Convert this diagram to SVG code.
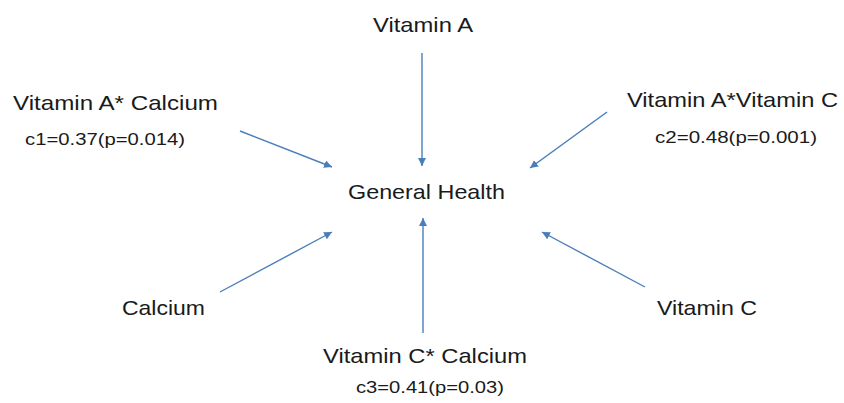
<svg xmlns="http://www.w3.org/2000/svg" width="844" height="403" viewBox="0 0 844 403">
<style>
.lbl{font-family:"Liberation Sans","DejaVu Sans",sans-serif;font-size:21px;fill:#1a1a1a}
.sub{font-family:"Liberation Sans","DejaVu Sans",sans-serif;font-size:17px;fill:#1a1a1a}
.con{stroke:#4a7ebb;stroke-width:1.4;fill:none;marker-end:url(#ah)}
</style>
<defs>
<marker id="ah" viewBox="0 0 10 10" refX="10" refY="5" markerWidth="8" markerHeight="8" markerUnits="userSpaceOnUse" orient="auto">
<path d="M0,0 L10,5 L0,10 z" fill="#4a7ebb"/>
</marker>
</defs>
<rect width="844" height="403" fill="#ffffff"/>
<g id="connectors">
<line class="con" x1="422" y1="53" x2="422" y2="166"/>
<line class="con" x1="240" y1="131" x2="332" y2="167"/>
<line class="con" x1="607" y1="112" x2="530" y2="168"/>
<line class="con" x1="220" y1="292" x2="332" y2="232"/>
<line class="con" x1="645" y1="287" x2="542" y2="232"/>
<line class="con" x1="423" y1="333" x2="423" y2="218"/>
</g>
<g id="vitaminA"><text class="lbl" x="373" y="32" textLength="100" lengthAdjust="spacingAndGlyphs">Vitamin A</text></g>
<g id="generalHealth"><text class="lbl" x="348" y="199" textLength="157" lengthAdjust="spacingAndGlyphs">General Health</text></g>
<g id="vitaminACalcium">
<text class="lbl" x="13" y="110" textLength="205" lengthAdjust="spacingAndGlyphs">Vitamin A* Calcium</text>
<text class="sub" x="25" y="145" textLength="160" lengthAdjust="spacingAndGlyphs">c1=0.37(p=0.014)</text>
</g>
<g id="vitaminAVitaminC">
<text class="lbl" x="627" y="107" textLength="211" lengthAdjust="spacingAndGlyphs">Vitamin A*Vitamin C</text>
<text class="sub" x="655" y="143" textLength="162" lengthAdjust="spacingAndGlyphs">c2=0.48(p=0.001)</text>
</g>
<g id="calcium"><text class="lbl" x="122" y="315" textLength="83" lengthAdjust="spacingAndGlyphs">Calcium</text></g>
<g id="vitaminC"><text class="lbl" x="657" y="315" textLength="100" lengthAdjust="spacingAndGlyphs">Vitamin C</text></g>
<g id="vitaminCCalcium">
<text class="lbl" x="323" y="363" textLength="204" lengthAdjust="spacingAndGlyphs">Vitamin C* Calcium</text>
<text class="sub" x="356" y="393" textLength="148" lengthAdjust="spacingAndGlyphs">c3=0.41(p=0.03)</text>
</g>
</svg>
